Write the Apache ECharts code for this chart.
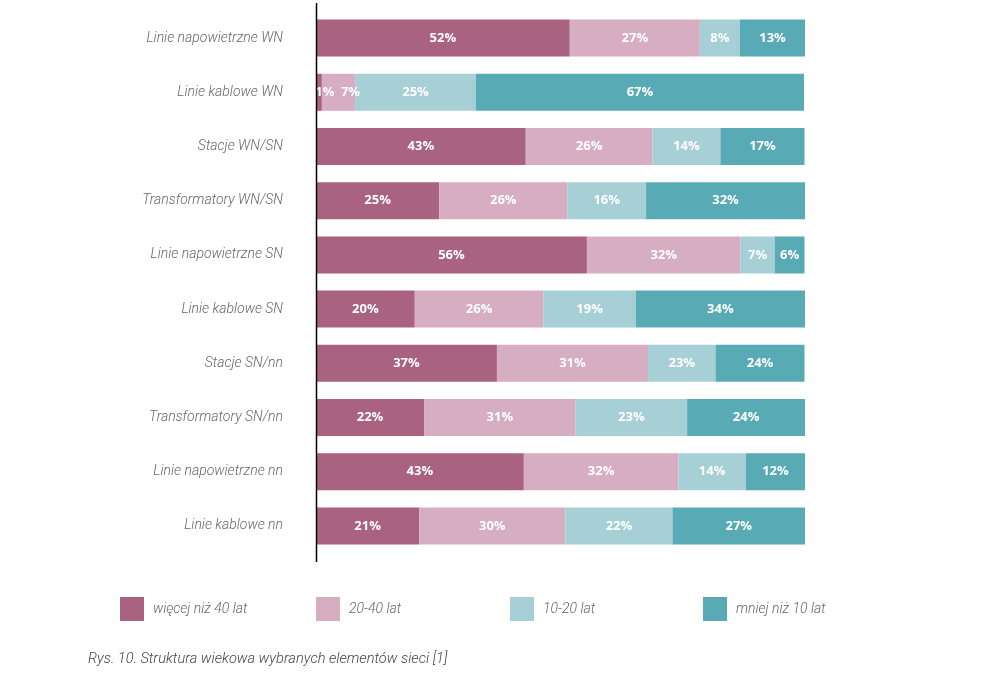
<!DOCTYPE html>
<html>
<head>
<meta charset="utf-8">
<script src="https://cdn.jsdelivr.net/npm/echarts@6/dist/echarts.min.js"></script>
<style>
  html, body { margin: 0; padding: 0; background: #fff; }
  #chart { width: 986px; height: 676px; }
</style>
</head>
<body>
<div id="chart"></div>
<script>
// kategorie (od góry)
const categories = [
  'Linie napowietrzne WN', 'Linie kablowe WN', 'Stacje WN/SN', 'Transformatory WN/SN',
  'Linie napowietrzne SN', 'Linie kablowe SN', 'Stacje SN/nn', 'Transformatory SN/nn',
  'Linie napowietrzne nn', 'Linie kablowe nn'
];
const seriesNames = ['więcej niż 40 lat', '20-40 lat', '10-20 lat', 'mniej niż 10 lat'];

// szerokości odcinków (%)
const over40   = [51.9, 1.2, 42.9, 25.2, 55.4, 20.2, 37.0, 22.1, 42.5, 21.1];
const from20   = [26.6, 6.8, 25.9, 26.2, 31.4, 26.3, 30.9, 31.0, 31.6, 29.9];
const from10   = [8.2, 24.7, 13.9, 16.1, 7.0, 18.9, 13.8, 22.8, 13.8, 21.9];
const under10  = [13.3, 67.1, 17.2, 32.5, 6.1, 34.6, 18.2, 24.1, 12.1, 27.2];

// etykiety tak jak wydrukowane na rysunku
const over40Labels  = [52, 1, 43, 25, 56, 20, 37, 22, 43, 21];
const from20Labels  = [27, 7, 26, 26, 32, 26, 31, 31, 32, 30];
const from10Labels  = [8, 25, 14, 16, 7, 19, 23, 23, 14, 22];
const under10Labels = [13, 67, 17, 32, 6, 34, 24, 24, 12, 27];

const colors = ['#a9627f', '#d6adc1', '#a7cfd6', '#58abb4'];

// przesunięcia etykiet w wąskich odcinkach (seria-wiersz -> px)
const labelShift = { '0-1': 6, '1-1': 12 };

var chart = echarts.init(document.getElementById('chart'));

function makeSeries(idx, data, labels) {
  return {
    name: seriesNames[idx],
    type: 'bar',
    stack: 'total',
    barWidth: 37,
    data: data.map(function (v, i) {
      var s = labelShift[idx + '-' + i];
      return s ? { value: v, label: { offset: [s, 0] } } : v;
    }),
    itemStyle: { color: colors[idx] },
    label: {
      show: true,
      position: 'inside',
      color: '#fff',
      fontFamily: 'Open Sans',
      fontWeight: 'bold',
      fontSize: 13,
      formatter: function (p) { return labels[p.dataIndex] + '%'; }
    },
    emphasis: { disabled: true }
  };
}

function makeLegend(name, left) {
  return {
    data: [name],
    left: left,
    top: 597,
    padding: 0,
    icon: 'rect',
    itemWidth: 24,
    itemHeight: 24,
    selectedMode: false,
    textStyle: {
      fontFamily: 'Roboto',
      fontStyle: 'italic',
      fontWeight: 300,
      fontSize: 14,
      color: '#666',
      padding: [2, 0, 0, 4]
    }
  };
}

chart.setOption({
  animation: false,
  backgroundColor: '#fff',
  grid: { left: 316, right: 181, top: 11, bottom: 123 },
  xAxis: {
    type: 'value',
    min: 0,
    max: 100,
    show: false
  },
  yAxis: {
    type: 'category',
    data: categories,
    inverse: true,
    axisLine: { show: false },
    axisTick: { show: false },
    axisLabel: {
      margin: 33,
      fontFamily: 'Roboto',
      fontStyle: 'italic',
      fontWeight: 300,
      fontSize: 14,
      color: '#666'
    }
  },
  legend: [
    makeLegend(seriesNames[0], 120),
    makeLegend(seriesNames[1], 316),
    makeLegend(seriesNames[2], 510),
    makeLegend(seriesNames[3], 703)
  ],
  title: {
    text: 'Rys. 10. Struktura wiekowa wybranych elementów sieci [1]',
    left: 88,
    top: 652,
    padding: 0,
    textStyle: {
      fontFamily: 'Roboto',
      fontStyle: 'italic',
      fontWeight: 300,
      fontSize: 14.6,
      color: '#444'
    }
  },
  graphic: [{
    type: 'line',
    shape: { x1: 316.5, y1: 3, x2: 316.5, y2: 562 },
    style: { stroke: '#000', lineWidth: 1.5 },
    z: 10
  }],
  series: [
    makeSeries(0, over40, over40Labels),
    makeSeries(1, from20, from20Labels),
    makeSeries(2, from10, from10Labels),
    makeSeries(3, under10, under10Labels)
  ]
});

window.addEventListener('resize', function () { chart.resize(); });
</script>
</body>
</html>
